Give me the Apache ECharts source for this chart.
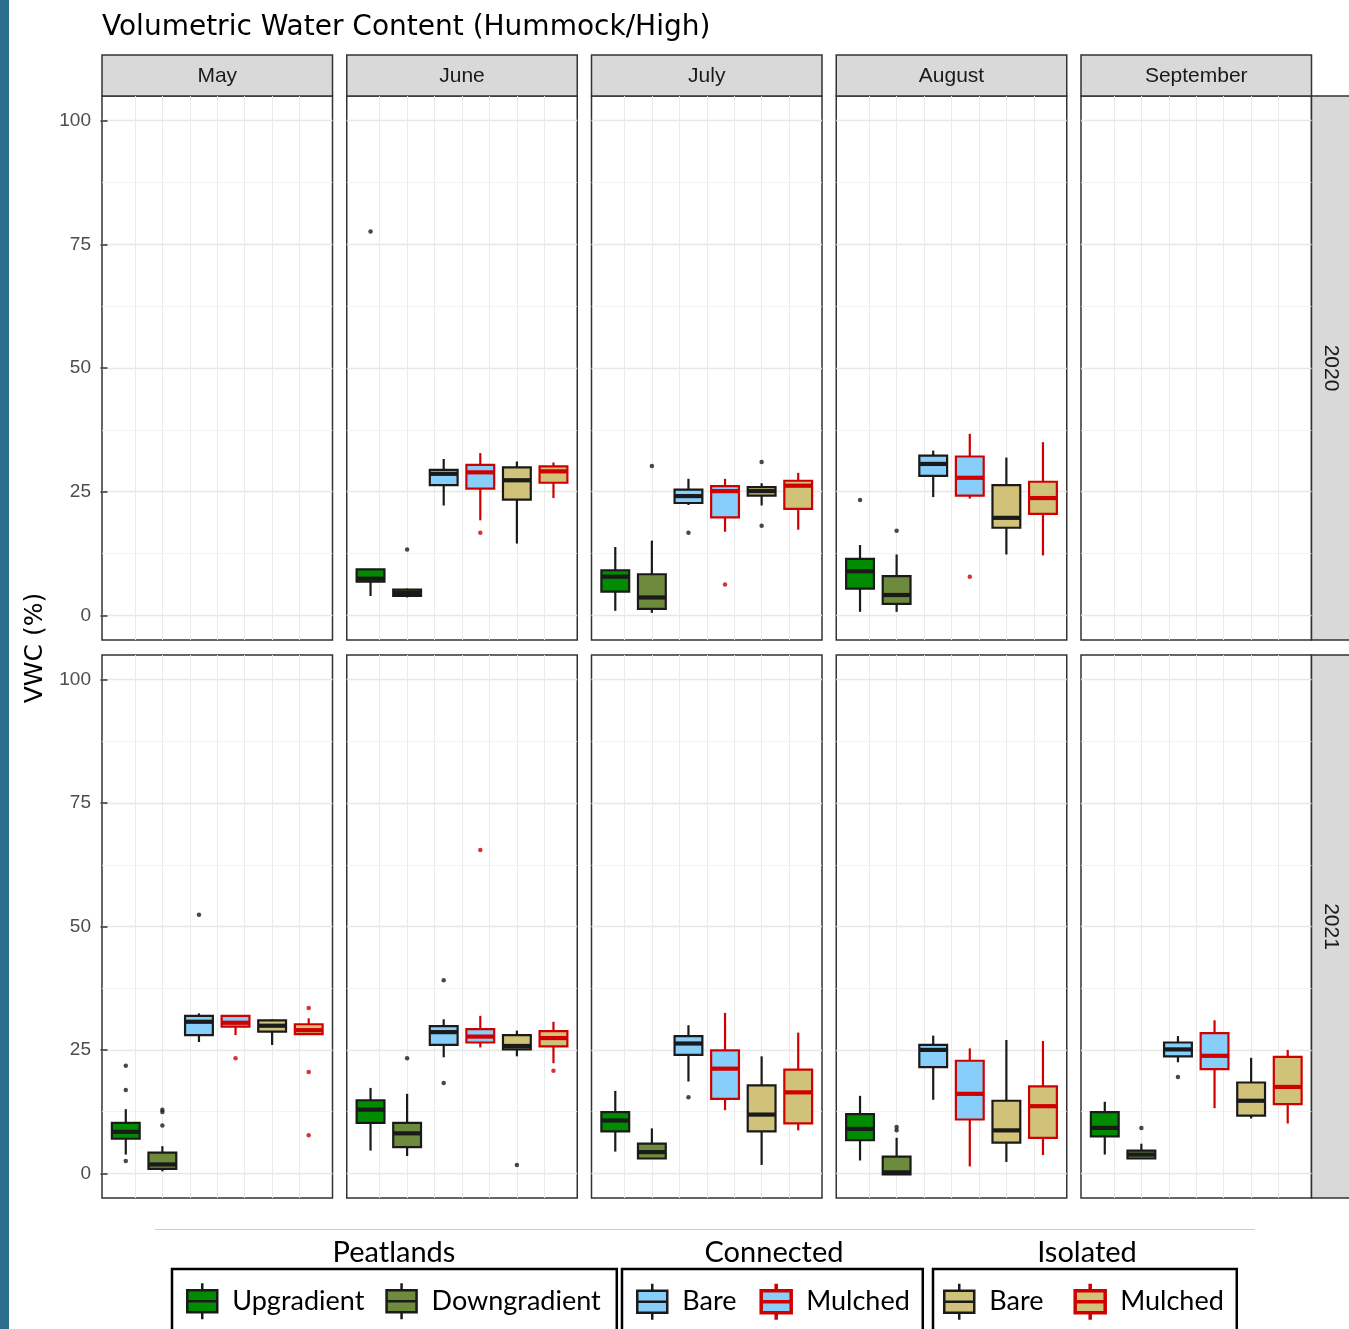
<!DOCTYPE html>
<html><head><meta charset="utf-8">
<script src="https://cdn.jsdelivr.net/npm/echarts@6/dist/echarts.min.js"></script>
<style>html,body{margin:0;padding:0;background:#fff}#c{width:1349px;height:1329px}</style>
</head><body><div id="c"></div>
<script>
// ---------------- DATA ----------------
const titleText = 'Volumetric Water Content (Hummock/High)';
const yTitle = 'VWC (%)';
const months = ['May', 'June', 'July', 'August', 'September'];
const years = ['2020', '2021'];
const groups = ['Upgradient', 'Downgradient', 'Connected Bare', 'Connected Mulched', 'Isolated Bare', 'Isolated Mulched'];
const groupLabels = ['Upgradient', 'Downgradient', 'Bare', 'Mulched', 'Bare', 'Mulched'];
const legendTitles = ['Peatlands', 'Connected', 'Isolated'];
const yBreaks = [0, 25, 50, 75, 100];
const yMinorBreaks = [12.5, 37.5, 62.5, 87.5];
const xGridBreaks = [0.75, 1.5, 2.25, 3, 3.75, 4.5, 5.25];

// five-number summaries per group: [lower whisker, Q1, median, Q3, upper whisker]
const box2020Jun = [[3.9, 6.8, 7.4, 9.3, 9.3], [3.6, 3.9, 4.5, 5.2, 5.4], [22.2, 26.3, 28.6, 29.4, 31.6], [19.2, 25.6, 28.9, 30.4, 32.8], [14.5, 23.4, 27.3, 29.9, 31.1], [23.7, 26.8, 29.1, 30.1, 30.9]];
const box2020Jul = [[0.9, 4.8, 7.8, 9.1, 13.8], [0.5, 1.3, 3.6, 8.3, 15.1], [22.3, 22.7, 24.1, 25.4, 27.6], [16.9, 19.8, 25.1, 26.1, 27.6], [22.2, 24.2, 25.1, 25.9, 26.7], [17.3, 21.5, 26.2, 27.2, 28.8]];
const box2020Aug = [[0.7, 5.4, 8.9, 11.4, 14.2], [0.7, 2.3, 4.1, 7.9, 12.3], [23.9, 28.2, 30.6, 32.3, 33.3], [23.6, 24.2, 27.8, 32.1, 36.7], [12.3, 17.7, 19.7, 26.3, 31.9], [12.1, 20.5, 23.7, 27.0, 35.0]];
const box2021May = [[3.8, 7.0, 8.4, 10.2, 13.0], [0.4, 0.9, 1.8, 4.2, 5.5], [26.6, 28.0, 30.7, 31.9, 32.4], [28.0, 29.7, 30.5, 31.9, 31.9], [26.0, 28.7, 29.9, 31.0, 31.2], [28.2, 28.2, 29.0, 30.2, 31.4]];
const box2021Jun = [[4.6, 10.2, 12.9, 14.8, 17.3], [3.5, 5.3, 8.1, 10.2, 16.1], [23.5, 26.0, 28.6, 29.8, 31.2], [25.5, 26.5, 27.7, 29.2, 31.9], [23.7, 25.1, 25.8, 28.0, 28.9], [22.3, 25.7, 27.4, 28.8, 30.7]];
const box2021Jul = [[4.4, 8.5, 10.7, 12.4, 16.7], [3.0, 3.0, 4.3, 6.0, 9.1], [18.6, 24.0, 26.3, 27.8, 30.0], [12.8, 15.1, 21.2, 24.9, 32.5], [1.7, 8.5, 11.9, 17.8, 23.7], [8.7, 10.1, 16.4, 21.0, 28.5]];
const box2021Aug = [[2.6, 6.7, 9.0, 12.0, 15.7], [-0.2, -0.2, 0.2, 3.4, 7.2], [14.9, 21.5, 25.0, 26.0, 27.9], [1.4, 10.9, 16.1, 22.8, 25.3], [2.3, 6.2, 8.7, 14.7, 27.0], [3.7, 7.2, 13.6, 17.6, 26.8]];
const box2021Sep = [[3.8, 7.5, 9.2, 12.4, 14.5], [3.0, 3.0, 3.8, 4.6, 6.0], [22.5, 23.7, 25.1, 26.5, 27.8], [13.2, 21.1, 23.8, 28.4, 31.0], [11.1, 11.7, 14.7, 18.4, 23.4], [10.1, 14.0, 17.5, 23.6, 25.0]];

// outliers: [group index, value]
const out2020Jun = [[0, 77.6], [1, 13.3], [3, 16.7]];
const out2020Jul = [[1, 30.2], [2, 16.7], [3, 6.2], [4, 31.0], [4, 18.1]];
const out2020Aug = [[0, 23.3], [1, 17.1], [3, 7.8]];
const out2021May = [[0, 21.8], [0, 16.9], [0, 2.5], [1, 12.9], [1, 12.4], [1, 9.7], [2, 52.4], [3, 23.3], [5, 33.5], [5, 20.5], [5, 7.7]];
const out2021Jun = [[1, 23.3], [2, 39.1], [2, 18.3], [3, 65.5], [4, 1.7], [5, 20.8]];
const out2021Jul = [[2, 15.4]];
const out2021Aug = [[1, 9.4], [1, 8.7]];
const out2021Sep = [[1, 9.2], [2, 19.5]];

const panelData = {
  '2020': { June: [box2020Jun, out2020Jun], July: [box2020Jul, out2020Jul], August: [box2020Aug, out2020Aug] },
  '2021': { May: [box2021May, out2021May], June: [box2021Jun, out2021Jun], July: [box2021Jul, out2021Jul], August: [box2021Aug, out2021Aug], September: [box2021Sep, out2021Sep] }
};

// ---------------- STYLE / LAYOUT ----------------
const BLACK = '#1a1a1a', RED = '#d00000';
const groupStyle = [
  { fill: '#008b00', stroke: BLACK }, { fill: '#6e8b3d', stroke: BLACK },
  { fill: '#87cefa', stroke: BLACK }, { fill: '#87cefa', stroke: RED },
  { fill: '#d1c27a', stroke: BLACK }, { fill: '#d1c27a', stroke: RED }
];
const PANEL_W = 230.5, COL_STEP = 244.75, COL0 = 102;
const rowTop = [96, 655], rowH = [544, 543];
const X_MIN = -0.15, X_MAX = 6.15, Y_MIN = -5, Y_MAX = 105, BOX_W = 0.76;
const colLeft = c => COL0 + c * COL_STEP;

function boxRenderer(st) {
  return function (params, api) {
    const x = api.value(0);
    const lo = api.coord([x, api.value(1)]), q1 = api.coord([x, api.value(2)]),
      md = api.coord([x, api.value(3)]), q3 = api.coord([x, api.value(4)]), hi = api.coord([x, api.value(5)]);
    const hw = api.size([BOX_W, 0])[0] / 2;
    const cx = md[0];
    const ls = { stroke: st.stroke, lineWidth: 2.2 };
    return {
      type: 'group', children: [
        { type: 'line', shape: { x1: cx, y1: hi[1], x2: cx, y2: q3[1] }, style: ls },
        { type: 'line', shape: { x1: cx, y1: q1[1], x2: cx, y2: lo[1] }, style: ls },
        { type: 'rect', shape: { x: cx - hw, y: q3[1], width: 2 * hw, height: q1[1] - q3[1] }, style: { fill: st.fill, stroke: st.stroke, lineWidth: 2.2 } },
        { type: 'line', shape: { x1: cx - hw, y1: md[1], x2: cx + hw, y2: md[1] }, style: { stroke: st.stroke, lineWidth: 4.2 } }
      ]
    };
  };
}

const grids = [], xAxes = [], yAxes = [], series = [];
years.forEach((yr, r) => {
  months.forEach((m, c) => {
    const g = grids.length;
    const isLeft = c === 0;
    grids.push({ left: colLeft(c), top: rowTop[r], width: PANEL_W, height: rowH[r], show: true, backgroundColor: '#fff', borderColor: '#333', borderWidth: 1.5 });
    xAxes.push({
      gridIndex: g, type: 'value', min: X_MIN, max: X_MAX,
      axisLine: { show: false }, axisTick: { show: false, customValues: xGridBreaks }, axisLabel: { show: false, customValues: xGridBreaks },
      splitLine: { show: true, lineStyle: { color: '#ebebeb', width: 1 } }
    });
    yAxes.push({
      gridIndex: g, type: 'value', min: Y_MIN, max: Y_MAX,
      axisLine: { show: false },
      axisTick: { show: isLeft, length: 7, lineStyle: { color: '#333', width: 1.5 }, customValues: yBreaks },
      axisLabel: { show: isLeft, customValues: yBreaks, margin: 11, color: '#4d4d4d', fontSize: 19, fontFamily: 'Liberation Sans' },
      splitLine: { show: true, lineStyle: { color: '#e8e8e8', width: 1.4 } }
    });
    yAxes.push({
      gridIndex: g, type: 'value', min: Y_MIN, max: Y_MAX,
      axisLine: { show: false }, axisTick: { show: false, customValues: yMinorBreaks }, axisLabel: { show: false, customValues: yMinorBreaks },
      splitLine: { show: true, lineStyle: { color: '#f0f0f0', width: 0.8 } }
    });
    const pd = panelData[yr][m];
    if (!pd) return;
    const [boxes, outs] = pd;
    groups.forEach((name, k) => {
      const st = groupStyle[k];
      series.push({
        type: 'custom', name, xAxisIndex: g, yAxisIndex: 2 * g, silent: true, z: 3,
        dimensions: ['x', 'lo', 'q1', 'med', 'q3', 'hi'],
        encode: { x: 0, y: [1, 2, 3, 4, 5] },
        renderItem: boxRenderer(st),
        data: [[k + 0.5].concat(boxes[k])]
      });
      const o = outs.filter(d => d[0] === k).map(d => [d[0] + 0.5, d[1]]);
      if (o.length) series.push({
        type: 'scatter', name, xAxisIndex: g, yAxisIndex: 2 * g, silent: true, z: 4,
        symbol: 'circle', symbolSize: 4.5, itemStyle: { color: st.stroke }, data: o
      });
    });
  });
});

const iconPath = 'path://M15,0L15,7M0,7L30,7L30,29L0,29ZM0,18L30,18M15,29L15,36';
function legendItem(k) {
  const red = groupStyle[k].stroke === RED;
  return { name: groups[k], icon: iconPath, itemStyle: { color: groupStyle[k].fill, borderColor: groupStyle[k].stroke, borderWidth: red ? 3.5 : 2.5 } };
}
const legendBase = {
  orient: 'horizontal', itemWidth: 50, itemHeight: 36, selectedMode: false,
  borderColor: '#000', borderWidth: 2.5,
  textStyle: { fontFamily: 'Lato', fontSize: 27, color: '#000' },
  formatter: name => groupLabels[groups.indexOf(name)]
};
const legends = [
  Object.assign({}, legendBase, { left: 172, top: 1269, itemGap: 21, padding: [13, 16, 40, 14], data: [legendItem(0), legendItem(1)] }),
  Object.assign({}, legendBase, { left: 622, top: 1269, itemGap: 23, padding: [13, 13, 40, 14], data: [legendItem(2), legendItem(3)] }),
  Object.assign({}, legendBase, { left: 933, top: 1269, itemGap: 30, padding: [13, 13, 40, 10], data: [legendItem(4), legendItem(5)] })
];

const graphics = [
  { type: 'rect', shape: { x: 0, y: 0, width: 9, height: 1329 }, style: { fill: '#2a6e8c' } },
  { type: 'line', shape: { x1: 155, y1: 1229.5, x2: 1255, y2: 1229.5 }, style: { stroke: '#cccccc', lineWidth: 1 } },
  { type: 'text', x: 35, y: 648, rotation: Math.PI / 2, style: { text: yTitle, align: 'center', verticalAlign: 'middle', fill: '#000', fontSize: 25, fontFamily: 'DejaVu Sans' } }
];
months.forEach((m, c) => {
  graphics.push({ type: 'rect', shape: { x: colLeft(c), y: 55, width: PANEL_W, height: 41 }, style: { fill: '#d9d9d9', stroke: '#333', lineWidth: 1.5 } });
  graphics.push({ type: 'text', x: colLeft(c) + PANEL_W / 2, y: 76, style: { text: m, align: 'center', verticalAlign: 'middle', fill: '#1a1a1a', fontSize: 21, fontFamily: 'Liberation Sans' } });
});
years.forEach((yr, r) => {
  graphics.push({ type: 'rect', shape: { x: COL0 + 4 * COL_STEP + PANEL_W, y: rowTop[r], width: 50, height: rowH[r] }, style: { fill: '#d9d9d9', stroke: '#333', lineWidth: 1.5 } });
  graphics.push({ type: 'text', x: 1331, y: rowTop[r] + rowH[r] / 2, rotation: -Math.PI / 2, style: { text: yr, align: 'center', verticalAlign: 'middle', fill: '#1a1a1a', fontSize: 21, fontFamily: 'Liberation Sans' } });
});
const legendTitleX = [394, 774, 1087];
legendTitles.forEach((t, i) => {
  graphics.push({ type: 'text', x: legendTitleX[i], y: 1253, style: { text: t, align: 'center', verticalAlign: 'middle', fill: '#000', fontSize: 29, fontFamily: 'Lato' } });
});

const chart = echarts.init(document.getElementById('c'), null, { renderer: 'canvas' });
chart.setOption({
  backgroundColor: '#fff',
  animation: false,
  title: { text: titleText, left: 97, top: 9, textStyle: { fontFamily: 'DejaVu Sans', fontSize: 28, fontWeight: 'normal', color: '#000' } },
  grid: grids, xAxis: xAxes, yAxis: yAxes, series,
  legend: legends,
  graphic: graphics
});
</script></body></html>
